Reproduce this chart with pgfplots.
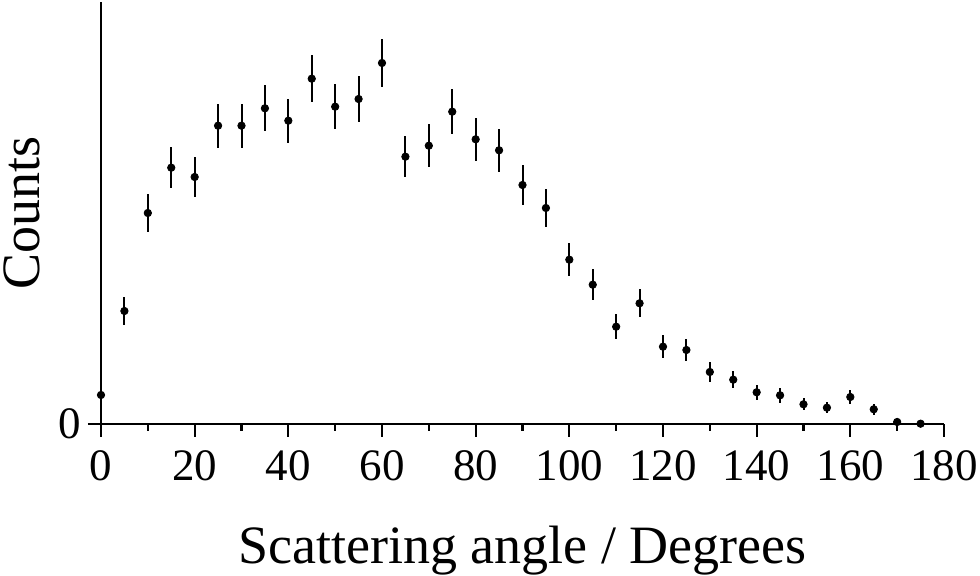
\documentclass[border=0pt]{standalone}
\usepackage{pgfplots}
\pgfplotsset{compat=1.18}
\usepackage{pgfplotstable}
\usepackage{fontspec}
\setmainfont{Liberation Serif}
\pgfplotstableread{
angle counts err
0   29    2
5   113   13.7
10  211   18.7
15  256.3 20.5
20  247   20
25  298.3 22
30  298.3 22
35  315.7 22.8
40  303.3 22
45  345.3 23.7
50  317.3 22.7
55  325   22.8
60  361   24
65  267.3 20.8
70  278.3 21.5
75  312.3 22.5
80  284.7 21.5
85  273.7 21.3
90  239   20
95  216   18.8
100 164.3 16.5
105 139.3 15.3
110 97.3  12.8
115 120.7 14.2
120 77.3  11.7
125 74    11.2
130 52    9.7
135 44.3  8.8
140 31.7  7.7
145 28.7  7.3
150 19.7  6.2
155 16.3  5.7
160 27    7.2
165 14.7  5.3
170 2     2
175 0.3   0
}\datatable
\begin{document}
\begin{tikzpicture}
\useasboundingbox (-50.5pt,-76pt) rectangle (439.5pt,212pt);
\begin{axis}[
  scale only axis,
  width=421.5pt, height=211pt,
  xmin=0, xmax=180, ymin=0, ymax=422,
  axis x line*=bottom, axis y line*=left,
  axis line style={line width=1.25pt},
  xtick={0,20,...,180}, minor x tick num=1,
  ytick={0},
  tick align=outside,
  major tick length=6.5pt, minor tick length=3.5pt,
  every tick/.style={line width=1.1pt, black},
  clip=false,
  /pgf/number format/assume math mode=true,
  tick label style={font=\fontsize{22.5}{27}\selectfont},
  xticklabel style={yshift=-3.5pt},
  label style={font=\fontsize{27}{32}\selectfont},
  xlabel={Scattering angle / Degrees},
  ylabel={Counts},
  xlabel style={at={(axis description cs:0.5,-0.3294)}, anchor=base},
  ylabel style={at={(axis description cs:-0.0724,0.5)}, anchor=base, rotate=0},
]
\addplot[only marks, mark=*, mark size=1.85pt, black,
  error bars/.cd, y dir=both, y explicit, error mark=none,
  error bar style={line width=1pt, black}]
  table[x=angle, y=counts, y error=err] {\datatable};
\end{axis}
\end{tikzpicture}
\end{document}
